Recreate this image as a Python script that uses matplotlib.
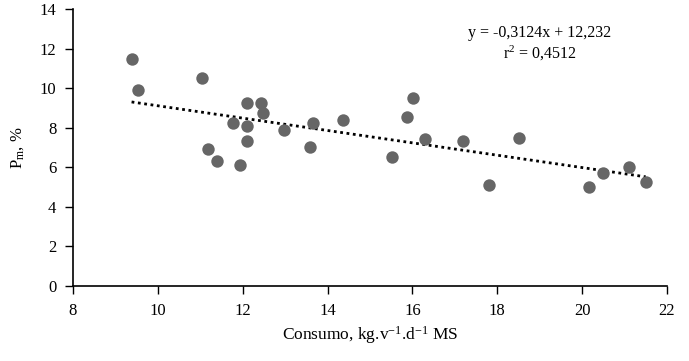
import matplotlib
matplotlib.use("Agg")
import matplotlib.pyplot as plt
import numpy as np

plt.rcParams['font.family'] = ['Liberation Serif', 'DejaVu Serif']
plt.rcParams['mathtext.fontset'] = 'custom'
plt.rcParams['mathtext.rm'] = 'Liberation Serif'
plt.rcParams['mathtext.it'] = 'Liberation Serif:italic'

consumo = [9.38, 9.54, 11.03, 11.17, 11.39, 11.78, 11.94, 12.09, 12.09, 12.09,
           12.42, 12.48, 12.97, 13.59, 13.66, 14.36, 15.52, 15.87, 16.01, 16.30,
           17.19, 17.80, 18.51, 20.16, 20.49, 21.10, 21.50]
pm = [11.46, 9.90, 10.53, 6.92, 6.33, 8.22, 6.13, 9.23, 8.08, 7.34,
      9.23, 8.76, 7.88, 7.01, 8.22, 8.39, 6.52, 8.54, 9.50, 7.43,
      7.33, 5.10, 7.48, 5.00, 5.71, 6.01, 5.26]
slope = -0.3124
intercept = 12.232
equation = "y = -0,3124x + 12,232"
r2_label = "r$^2$ = 0,4512"
x_ticks = [8, 10, 12, 14, 16, 18, 20, 22]
y_ticks = [0, 2, 4, 6, 8, 10, 12, 14]

fig = plt.figure(figsize=(6.89, 3.61), dpi=100)
ax = fig.add_axes([0.106, 0.208, 0.862, 0.767])

ax.scatter(consumo, pm, s=80, color='#666666', zorder=3, linewidths=0)
xs = np.array([min(consumo), max(consumo)])
ax.plot(xs, slope * xs + intercept, linestyle=(0, (1, 1.3)), color='black', lw=2.0, zorder=2)

ax.set_xlim(8, 22)
ax.set_ylim(0, 14)
ax.set_xticks(x_ticks)
ax.set_yticks(y_ticks)
ax.tick_params(labelsize=12, length=6, width=1, direction='out', colors='black')
ax.tick_params(axis='x', pad=6)
ax.tick_params(axis='y', pad=6)
ax.spines['top'].set_visible(False)
ax.spines['right'].set_visible(False)
for s in ['left', 'bottom']:
    ax.spines[s].set_linewidth(1.2)

ax.set_xlabel(r"Consumo, kg.v$^{\mathrm{-1}}$.d$^{\mathrm{-1}}$ MS", fontsize=12.5, labelpad=4)
ax.set_ylabel(r"P$_{\mathrm{m}}$, %", fontsize=12, labelpad=10)

ax.text(0.786, 0.913, equation, transform=ax.transAxes, ha='center', va='center', fontsize=11.5)
ax.text(0.786, 0.838, r2_label, transform=ax.transAxes, ha='center', va='center', fontsize=11.5)

fig.savefig("out.png", dpi=100)
